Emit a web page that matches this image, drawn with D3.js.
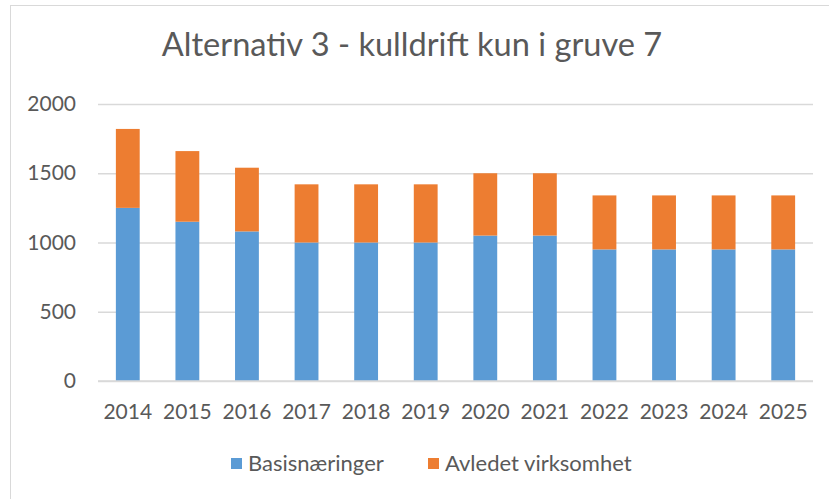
<!DOCTYPE html>
<html lang="no">
<head>
<meta charset="UTF-8">
<title>Alternativ 3</title>
<script src="https://d3js.org/d3.v7.min.js"></script>
<style>
  body { margin: 0; background: #fff; }
  text { font-family: Lato, "Open Sans", sans-serif; fill: #595959; }
</style>
</head>
<body>
<svg id="chart"></svg>
<script>
const width = 829, height = 499;

const years = ["2014","2015","2016","2017","2018","2019","2020","2021","2022","2023","2024","2025"];
const basis = [1250, 1150, 1080, 1000, 1000, 1000, 1050, 1050, 950, 950, 950, 950];
const avledet = [570, 510, 460, 420, 420, 420, 450, 450, 390, 390, 390, 390];
const seriesNames = ["Basisnæringer", "Avledet virksomhet"];
const colors = ["#5b9bd5", "#ed7d31"];
const yTicks = [0, 500, 1000, 1500, 2000];

const margin = {top: 104, right: 16, bottom: 118, left: 98};

const svg = d3.select("#chart").attr("width", width).attr("height", height);

// chart frame
svg.append("rect")
  .attr("x", 10.5).attr("y", 5.5)
  .attr("width", width + 20).attr("height", height + 20)
  .attr("fill", "none").attr("stroke", "#d9d9d9");

svg.append("text")
  .attr("x", 412).attr("y", 56)
  .attr("text-anchor", "middle")
  .attr("font-size", 32.6)
  .text("Alternativ 3 - kulldrift kun i gruve 7");

const x = d3.scaleBand()
  .domain(years)
  .range([margin.left, width - margin.right])
  .paddingInner(0.6).paddingOuter(0.3);

const y = d3.scaleLinear()
  .domain([0, 2000])
  .range([height - margin.bottom, margin.top]);

// gridlines
svg.append("g")
  .attr("transform", `translate(${margin.left},0)`)
  .call(d3.axisLeft(y).tickValues(yTicks).tickSize(-(width - margin.right - margin.left)).tickFormat(""))
  .call(g => g.select(".domain").remove())
  .call(g => g.selectAll("line").attr("stroke", "#d9d9d9").attr("stroke-width", 1.5));

// y labels
svg.append("g")
  .attr("transform", `translate(76,0)`)
  .call(d3.axisLeft(y).tickValues(yTicks).tickFormat(d3.format("d")).tickSize(0).tickPadding(0))
  .call(g => g.select(".domain").remove())
  .call(g => g.selectAll("text").attr("font-size", 21).attr("font-family", "Lato").attr("fill", "#595959"));

const rows = years.map((yr, i) => ({year: yr, [seriesNames[0]]: basis[i], [seriesNames[1]]: avledet[i]}));
const stacked = d3.stack().keys(seriesNames)(rows);

svg.append("g")
  .selectAll("g")
  .data(stacked)
  .join("g")
  .attr("fill", (d, i) => colors[i])
  .selectAll("rect")
  .data(d => d)
  .join("rect")
  .attr("x", d => x(d.data.year))
  .attr("width", x.bandwidth())
  .attr("y", d => y(d[1]))
  .attr("height", d => y(d[0]) - y(d[1]));

// x labels
svg.append("g")
  .attr("transform", `translate(0,${height - margin.bottom})`)
  .call(d3.axisBottom(x).tickSize(0).tickPadding(23))
  .call(g => g.select(".domain").attr("stroke", "#d9d9d9").attr("stroke-width", 1.5).attr("d", `M${margin.left},0H${width - margin.right}`))
  .call(g => g.selectAll("text").attr("font-size", 21).attr("font-family", "Lato").attr("fill", "#595959"));

// legend
const legendX = [231, 428];
const legend = svg.append("g");
seriesNames.forEach((name, i) => {
  legend.append("rect")
    .attr("x", legendX[i]).attr("y", 458)
    .attr("width", 11).attr("height", 11)
    .attr("fill", colors[i]);
  legend.append("text")
    .attr("x", legendX[i] + 17).attr("y", 471)
    .attr("font-size", 22)
    .text(name);
});
</script>
</body>
</html>
